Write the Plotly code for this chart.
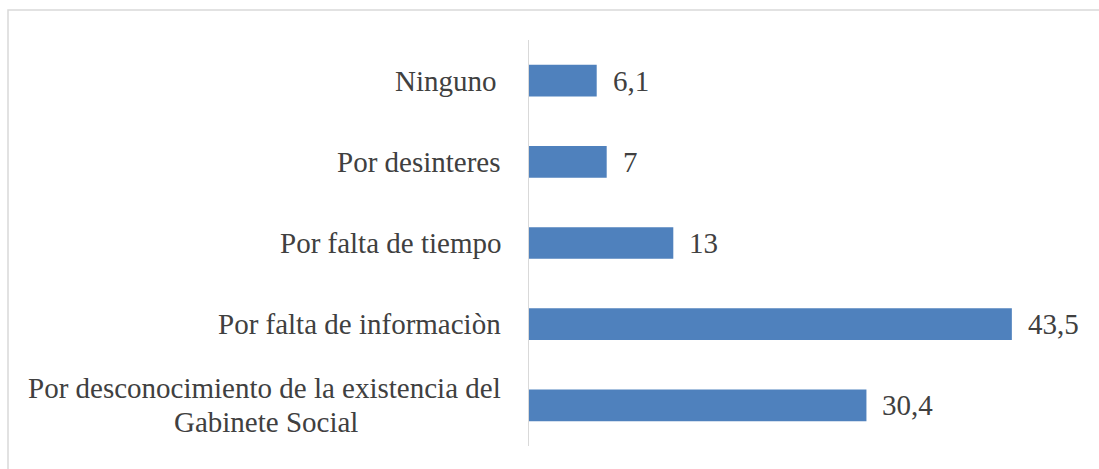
import plotly.graph_objects as go

categories = ["Ninguno", "Por desinteres", "Por falta de tiempo",
              "Por falta de informaciòn",
              "Por desconocimiento de la existencia del<br>Gabinete Social"]
values = [6.1, 7, 13, 43.5, 30.4]
value_labels = ["6,1", "7", "13", "43,5", "30,4"]

FONT = "Liberation Serif"
TXT = "#404040"
FS = 29
LINE_GAP = 34

W, H = 1099, 469
L, R, T, B = 529, 15, 40, 23
pw, ph = W - L - R, H - T - B

fig = go.Figure(go.Bar(
    x=values, y=categories, orientation="h",
    marker=dict(color="#4f81bd", line=dict(width=0)),
    width=0.39, hoverinfo="skip",
))

ann = []
for c, v, t in zip(categories, values, value_labels):
    ann.append(dict(x=v, y=c, xref="x", yref="y", text=t, showarrow=False,
                    xanchor="left", yanchor="middle", xshift=14,
                    font=dict(family=FONT, size=FS, color=TXT)))
    lines = c.split("<br>")
    n = len(lines)
    for i, ln in enumerate(lines):
        off = ((n - 1) / 2 - i) * LINE_GAP
        # first line right-aligned near the axis; continuation lines centred under it
        xpos = -26 / pw if i == 0 else (-26 - 475 / 2) / pw
        ann.append(dict(x=xpos, y=c, xref="paper", yref="y", text=ln,
                        showarrow=False, xanchor="right" if i == 0 else "center",
                        yanchor="middle", yshift=off,
                        xshift=-4 if c == "Ninguno" else 0,
                        font=dict(family=FONT, size=FS, color=TXT)))

fig.update_layout(
    width=W, height=H,
    margin=dict(l=L, r=R, t=T, b=B, pad=0),
    paper_bgcolor="white", plot_bgcolor="white",
    showlegend=False,
    xaxis=dict(range=[0, 50], visible=False, fixedrange=True),
    yaxis=dict(categoryorder="array", categoryarray=categories,
               autorange="reversed", showticklabels=False, fixedrange=True,
               showline=True, linecolor="#d9d9d9", linewidth=1.5,
               showgrid=False, zeroline=False, ticks=""),
    annotations=ann,
    shapes=[dict(type="rect", xref="paper", yref="paper",
                 x0=(8 - L) / pw, x1=(W + 5 - L) / pw,
                 y0=(H - (H + 5) - B) / ph, y1=(H - 10 - B) / ph,
                 line=dict(color="#d9d9d9", width=1.5),
                 fillcolor="rgba(0,0,0,0)", layer="below")],
)

fig.write_html("out.html", config={"displayModeBar": False, "staticPlot": True},
               post_script="document.body.style.margin='0';document.body.style.overflow='hidden';")
